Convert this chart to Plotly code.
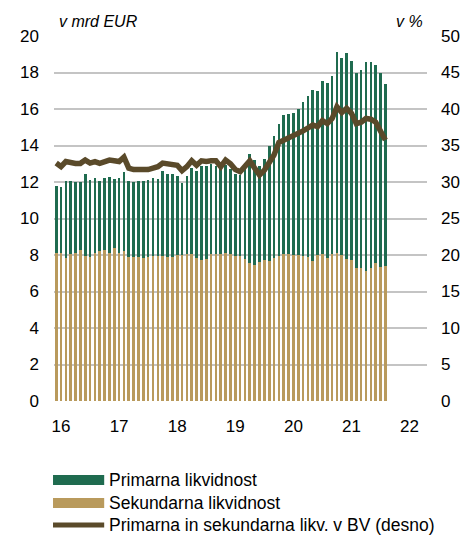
import plotly.graph_objects as go

# ---- data ----
years = ["16", "17", "18", "19", "20", "21", "22"]

# monthly, Jan 2016 .. Sep 2021 (bn EUR)
secondary = [8.13, 8.09, 7.82, 8.04, 8.09, 8.26, 7.95, 7.89, 8.13, 8.22, 8.26, 8.13,
             8.40, 8.09, 8.20, 7.89, 7.89, 7.89, 7.82, 7.89, 7.95, 7.95, 7.95, 7.89,
             7.90, 7.98, 8.00, 8.04, 8.05, 7.82, 7.73, 7.76, 8.04, 8.07, 8.07, 8.13,
             8.05, 7.95, 7.95, 7.76, 7.54, 7.47, 7.60, 7.70, 7.67, 7.84, 7.95, 8.05,
             8.07, 8.00, 7.98, 7.95, 7.89, 7.67, 8.00, 8.04, 7.84, 8.07, 8.13, 8.02,
             7.80, 7.71, 7.30, 7.30, 7.12, 7.30, 7.54, 7.36, 7.40]

primary = [3.67, 3.66, 4.23, 4.01, 3.91, 3.74, 4.50, 4.21, 4.07, 3.83, 3.94, 4.12,
           3.75, 4.11, 4.35, 4.16, 4.11, 4.16, 4.23, 4.21, 4.25, 4.23, 4.65, 4.57,
           4.54, 4.35, 3.96, 4.29, 4.70, 4.78, 5.17, 5.14, 4.93, 4.78, 4.68, 4.82,
           4.65, 4.50, 4.45, 5.24, 6.01, 5.73, 5.30, 5.55, 6.33, 6.66, 7.25, 7.60,
           7.63, 7.80, 8.02, 8.45, 8.81, 9.38, 9.00, 9.51, 9.58, 9.75, 11.02, 10.78,
           11.25, 10.91, 10.70, 10.82, 11.48, 11.30, 10.88, 10.62, 9.98]

share_pct = [32.6, 32.1, 32.8, 32.6, 32.55, 32.55, 33.0, 32.6, 32.8, 32.55, 32.7, 33.0,
             32.9, 32.8, 33.4, 31.9, 31.7, 31.65, 31.65, 31.7, 31.9, 32.1, 32.6, 32.5,
             32.55, 32.3, 31.55, 32.1, 32.9, 32.3, 32.9, 32.8, 32.9, 32.9, 32.1, 33.0,
             32.5, 31.7, 31.4, 32.1, 32.9, 31.9, 30.96, 31.6, 32.6, 33.7, 35.4, 35.7,
             36.0, 36.3, 36.5, 37.0, 37.4, 37.8, 37.6, 38.4, 38.0, 38.7, 40.3, 39.5,
             40.1, 39.4, 38.0, 38.2, 38.7, 38.6, 38.2, 37.1, 35.75]

names = ["Primarna likvidnost", "Sekundarna likvidnost",
         "Primarna in sekundarna likv. v BV (desno)"]

months = list(range(len(primary)))
tick_pos = [1 + 12 * i for i in range(len(years))]

GREEN = "#1f6b4f"
TAN = "#b99a5c"
BROWN = "#5a4a2a"
GRID = "#c4c4c4"
FONT = "Liberation Sans, Arial, sans-serif"

# the page body has an 8px default margin; compensate so the plot sits
# where it does in the reference (plot area x 54..433, y 36..401 on screen)
OFF = 8
W, H = 472 - OFF, 535 - OFF
PL, PR, PT, PB = 54, 433, 36, 401          # plot area in screen pixels
L, R, T, B = PL - OFF, 472 - PR, PT - OFF, 535 - PB
PW, PH = PR - PL, PB - PT


def px_x(px):
    return (px - PL) / PW


def px_y(py):
    return (PB - py) / PH


fig = go.Figure()
fig.add_bar(x=months, y=secondary, name=names[1], marker_color=TAN,
            marker_line_width=0, width=0.55)
fig.add_bar(x=months, y=primary, name=names[0], marker_color=GREEN,
            marker_line_width=0, width=0.55)
fig.add_scatter(x=months, y=share_pct, name=names[2], yaxis="y2", mode="lines",
                line=dict(color=BROWN, width=5.5))

fig.update_layout(
    width=W, height=H, autosize=False,
    margin=dict(l=L, r=R, t=T, b=B, pad=0),
    barmode="stack",
    showlegend=False,
    plot_bgcolor="white", paper_bgcolor="white",
    font=dict(family=FONT, size=17, color="black"),
    xaxis=dict(range=[-0.45, 76.6], tickvals=tick_pos, ticktext=years,
               showgrid=False, zeroline=False, showline=False, ticks="",
               ticklabelstandoff=13, tickfont=dict(size=17)),
    yaxis=dict(range=[0, 20], dtick=2, showgrid=True, gridcolor=GRID, gridwidth=1.5,
               zeroline=False, showline=False, ticks="", ticklabelstandoff=14,
               tickfont=dict(size=17)),
    yaxis2=dict(range=[0, 50], dtick=5, overlaying="y", side="right",
                showgrid=False, zeroline=False, showline=False, ticks="",
                ticklabelstandoff=13, tickfont=dict(size=17)),
)

# axis unit titles
fig.add_annotation(text="<i>v mrd EUR</i>", xref="paper", yref="paper",
                   x=px_x(57), y=px_y(21), xanchor="left", yanchor="middle",
                   showarrow=False, font=dict(size=16))
fig.add_annotation(text="<i>v %</i>", xref="paper", yref="paper",
                   x=px_x(431), y=px_y(21), xanchor="right", yanchor="middle",
                   showarrow=False, font=dict(size=16))

# manual legend
rows = [480, 503, 525]
fig.add_shape(type="rect", xref="paper", yref="paper",
              x0=px_x(53), x1=px_x(105), y0=px_y(rows[0] - 5), y1=px_y(rows[0] + 5),
              fillcolor=GREEN, line_width=0)
fig.add_shape(type="rect", xref="paper", yref="paper",
              x0=px_x(53), x1=px_x(105), y0=px_y(rows[1] - 5), y1=px_y(rows[1] + 5),
              fillcolor=TAN, line_width=0)
fig.add_shape(type="line", xref="paper", yref="paper",
              x0=px_x(53), x1=px_x(105), y0=px_y(rows[2]), y1=px_y(rows[2]),
              line=dict(color=BROWN, width=5))
for name, r in zip(names, rows):
    fig.add_annotation(text=name, xref="paper", yref="paper",
                       x=px_x(108), y=px_y(r), xanchor="left", yanchor="middle",
                       showarrow=False, font=dict(size=17.5))

fig.write_html("out.html")
